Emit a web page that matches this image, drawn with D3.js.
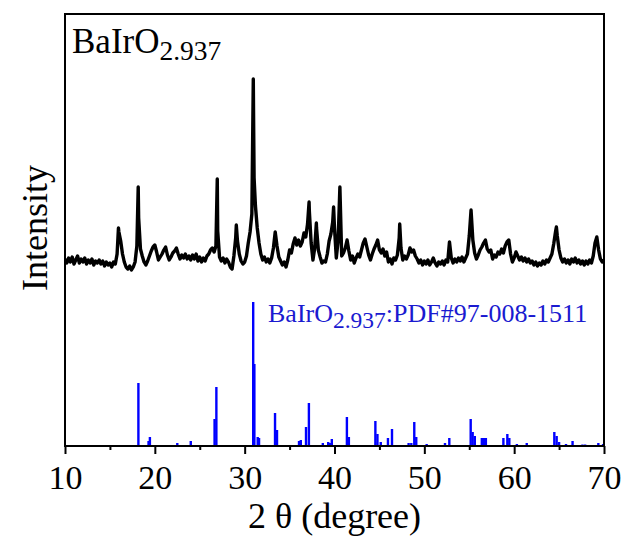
<!DOCTYPE html>
<html>
<head>
<meta charset="utf-8">
<script src="https://cdn.jsdelivr.net/npm/d3@7"></script>
<style>
  body { margin: 0; background: #fff; }
  text { font-family: "Liberation Serif", "Times New Roman", serif; }
</style>
</head>
<body>
<div id="chart"></div>
<script>
// measured scan, 10-70 deg, 0.2 deg step (a.u.)
const scanStart = 10;
const scanStep = 0.2;
const scanCounts = [
  187,183,188,184,189,182,186,190,183,187,
  184,188,182,186,183,187,181,185,183,186,
  182,185,180,184,181,183,179,184,182,192,
  214,205,192,184,179,177,180,176,179,184,
  200,228,197,190,184,181,185,190,195,199,
  201,194,186,189,192,196,199,191,186,189,
  193,195,198,192,187,191,188,192,187,190,
  186,191,187,192,185,189,184,188,185,190,
  192,196,198,194,200,215,189,185,188,183,
  187,184,179,177,190,208,205,192,185,182,
  184,190,203,214,232,320,240,218,203,192,
  186,189,184,187,183,188,198,214,200,189,
  185,181,184,179,186,196,193,202,208,201,
  206,200,204,213,209,222,235,203,186,198,
  218,196,189,183,185,184,192,205,212,224,
  218,188,205,259,190,193,198,206,195,186,
  190,183,188,192,189,196,203,207,199,191,
  186,192,197,201,206,196,193,197,190,194,
  184,187,182,188,186,191,208,198,186,190,
  187,191,198,194,196,190,187,183,186,181,
  185,182,186,181,184,188,183,180,184,182,
  185,181,186,184,204,188,183,187,184,188,
  185,189,184,188,192,210,236,206,193,187,
  191,196,199,203,206,197,194,196,187,191,
  189,194,192,197,193,200,204,206,192,184,
  188,194,190,186,189,185,188,184,187,183,
  185,181,184,180,183,181,185,182,186,184,
  188,192,202,214,210,196,188,184,187,183,
  186,182,187,184,188,183,186,182,185,181,
  185,182,186,183,190,203,209,196,187,184,
  186
];
// sharp peak maxima that fall between scan steps
const apexTheta  = [15.95, 18.15, 26.95, 29.07, 30.96, 31.05, 37.17, 37.98, 39.9, 47.26, 64.7];
const apexCounts = [218,   259,   267,   221,   367,   268,   244,   223,   239,  222,   219];

// reference pattern BaIrO2.937 PDF#97-008-1511
const refTheta = [18.17, 19.3, 19.45, 22.5, 24.0, 26.65, 26.85, 28.4, 30.95, 31.08, 31.45, 31.6,
  33.38, 33.6, 36.05, 36.25, 36.83, 37.15, 38.7, 39.3, 39.5, 39.7, 41.38, 41.6,
  44.55, 44.78, 45.15, 45.95, 46.4, 48.25, 48.55, 48.88, 49.1, 50.26, 50.7, 51.2,
  52.3, 52.78, 55.16, 55.38, 55.62, 56.4, 56.55, 56.7, 56.85, 58.8, 59.24, 59.46,
  60.3, 61.4, 64.47, 64.73, 65.0, 65.77, 66.5, 67.6, 67.9, 69.37, 69.9];
const refCounts = [63, 5, 9, 3, 5, 27, 59, 1, 144, 82, 9, 8,
  33, 16, 5, 6, 19, 43, 3, 4, 3, 7, 29, 9,
  25, 12, 4, 8, 17, 3, 3, 24, 9, 2, 1, 1,
  3, 8, 27, 14, 10, 8, 8, 8, 8, 8, 12, 8,
  2, 3, 14, 10, 4, 2, 5, 1.5, 1.5, 3, 2];

const xTicks = [10, 20, 30, 40, 50, 60, 70];
const xMinor = [15, 25, 35, 45, 55, 65];

const W = 626, H = 541;
const margin = {top: 14, right: 22, bottom: 95, left: 65};
const width = W - margin.left - margin.right;
const height = H - margin.top - margin.bottom;

const svg = d3.select('#chart')
  .append('svg')
  .attr('width', W)
  .attr('height', H)
  .append('g')
  .attr('transform', 'translate(' + margin.left + ',' + margin.top + ')');

const x = d3.scaleLinear().domain([10, 70]).range([0, width]);
const y = d3.scaleLinear().domain([0, 432]).range([height, 0]);

svg.append('clipPath').attr('id', 'plotClip')
  .append('rect').attr('width', width).attr('height', height);

const plot = svg.append('g').attr('clip-path', 'url(#plotClip)');

// reference sticks
plot.selectAll('.stick')
  .data(refTheta.map((t, i) => ({t: t, c: refCounts[i]})))
  .join('line')
  .attr('class', 'stick')
  .attr('x1', d => x(d.t))
  .attr('x2', d => x(d.t))
  .attr('y1', y(0))
  .attr('y2', d => y(d.c))
  .attr('stroke', '#0000ff')
  .attr('stroke-width', 2.4);

// measured curve
const pts = scanCounts.map((c, i) => [scanStart + i * scanStep, c])
  .concat(apexTheta.map((t, i) => [t, apexCounts[i]]))
  .sort((a, b) => a[0] - b[0]);

plot.append('path')
  .datum(pts)
  .attr('fill', 'none')
  .attr('stroke', '#000')
  .attr('stroke-width', 3.4)
  .attr('stroke-linejoin', 'round')
  .attr('d', d3.line().x(d => x(d[0])).y(d => y(d[1])));

// x axis ticks
const xAxis = svg.append('g')
  .attr('transform', 'translate(0,' + height + ')')
  .call(d3.axisBottom(x).tickValues(xTicks).tickSize(8).tickPadding(11).tickFormat(d3.format('d')));
xAxis.select('.domain').remove();
xAxis.selectAll('line').attr('stroke', '#000').attr('stroke-width', 2);
xAxis.selectAll('text').attr('font-size', 34).attr('fill', '#000')
  .style('font-family', '"Liberation Serif", serif');

const xAxisMinor = svg.append('g')
  .attr('transform', 'translate(0,' + height + ')')
  .call(d3.axisBottom(x).tickValues(xMinor).tickSize(4).tickFormat(''));
xAxisMinor.select('.domain').remove();
xAxisMinor.selectAll('line').attr('stroke', '#000').attr('stroke-width', 2);

// frame
svg.append('rect')
  .attr('width', width)
  .attr('height', height)
  .attr('fill', 'none')
  .attr('stroke', '#000')
  .attr('stroke-width', 2);

// axis titles
svg.append('text')
  .attr('x', width / 2)
  .attr('y', height + 82)
  .attr('text-anchor', 'middle')
  .attr('font-size', 36)
  .text('2 θ (degree)');

svg.append('text')
  .attr('transform', 'translate(-18,' + (height / 2 - 2) + ') rotate(-90)')
  .attr('text-anchor', 'middle')
  .attr('font-size', 36)
  .text('Intensity');

// sample label
const lab = svg.append('text')
  .attr('x', 7)
  .attr('y', 39)
  .attr('font-size', 35)
  .attr('fill', '#000');
lab.append('tspan').text('BaIrO');
lab.append('tspan').attr('font-size', 27.5).attr('dy', 6.7).text('2.937');

// reference label
const refLab = svg.append('text')
  .attr('x', 203)
  .attr('y', 308)
  .attr('font-size', 26)
  .attr('fill', '#1a1ad0');
refLab.append('tspan').text('BaIrO');
refLab.append('tspan').attr('font-size', 23.5).attr('dy', 5.6).text('2.937');
refLab.append('tspan').attr('dy', -5.6).text(':PDF#97-008-1511');
</script>
</body>
</html>
